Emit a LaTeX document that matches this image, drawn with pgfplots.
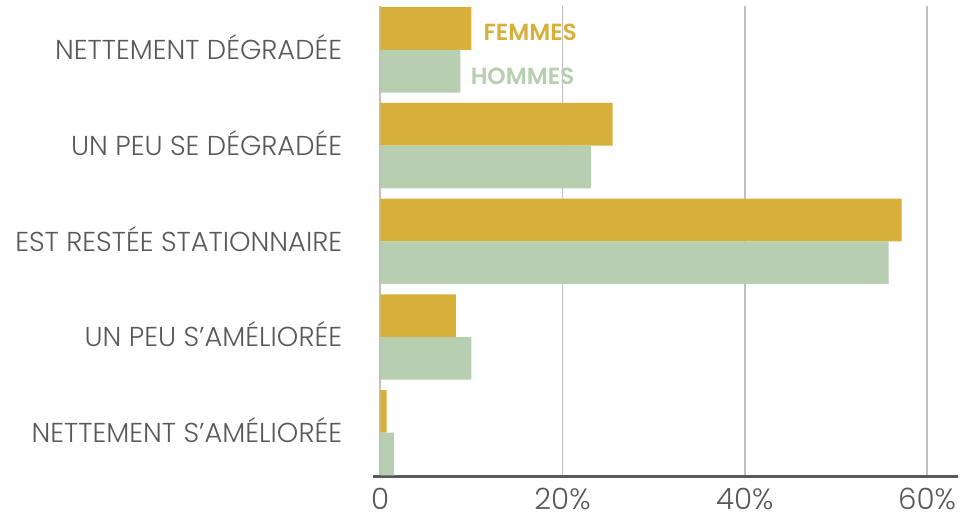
\documentclass[border=0pt]{standalone}
\usepackage{pgfplots}
\pgfplotsset{compat=1.18}
\usepackage{fontspec}
\setmainfont{Poppins}[UprightFont=*-Light,BoldFont=*-SemiBold]
\definecolor{gold}{HTML}{D7AF3B}
\definecolor{sage}{HTML}{B7CEB0}
\definecolor{txt}{HTML}{595959}
\definecolor{grd}{HTML}{BFBFBF}
\begin{document}
\begin{tikzpicture}
\begin{axis}[
  scale only axis,
  width=438.75pt, height=352.8pt,
  xmin=-0.8, xmax=63.4,
  ymin=0.545, ymax=5.46,
  y dir=reverse,
  axis x line*=bottom,
  axis y line*=left,
  y axis line style={draw=none},
  x axis line style={draw=txt, line width=2.2pt, -},
  xtick={0,20,40,60},
  xticklabels={0,20\%,40\%,60\%},
  xtick style={draw=none},
  xmajorgrids,
  grid style={draw=grd, line width=1.2pt},
  ytick={1,2,3,4,5},
  yticklabels={NETTEMENT DÉGRADÉE, UN PEU SE DÉGRADÉE, EST RESTÉE STATIONNAIRE, UN PEU S'AMÉLIORÉE, NETTEMENT S'AMÉLIORÉE},
  ytick style={draw=none},
  y tick label style={anchor=east, inner sep=0pt, xshift=-23pt, yshift=2pt, font=\fontsize{20.5}{22}\selectfont, text=txt},
  x tick label style={anchor=north, inner sep=0pt, yshift=-8pt, font=\fontsize{22}{24}\selectfont, text=txt},
  every axis plot/.append style={xbar, bar width=0.446, bar shift=0pt, draw=none},
  clip=false,
]
\addplot[fill=gold] coordinates {(10.0,0.777) (25.5,1.777) (57.2,2.777) (8.3,3.777) (0.7,4.777)};
\addplot[fill=sage] coordinates {(8.8,1.223) (23.1,2.223) (55.8,3.223) (10.0,4.223) (1.5,5.223)};
\node[anchor=west, inner sep=0pt, text=gold, font=\fontsize{17.5}{18}\selectfont\bfseries] at (axis cs:11.3,0.813) {FEMMES};
\node[anchor=west, inner sep=0pt, text=sage, font=\fontsize{17.5}{18}\selectfont\bfseries] at (axis cs:9.9,1.273) {HOMMES};
\end{axis}
\path (current axis.south west) ++(-279.75pt,-31.7pt) rectangle ++(723pt,389.25pt);
\end{tikzpicture}
\end{document}
